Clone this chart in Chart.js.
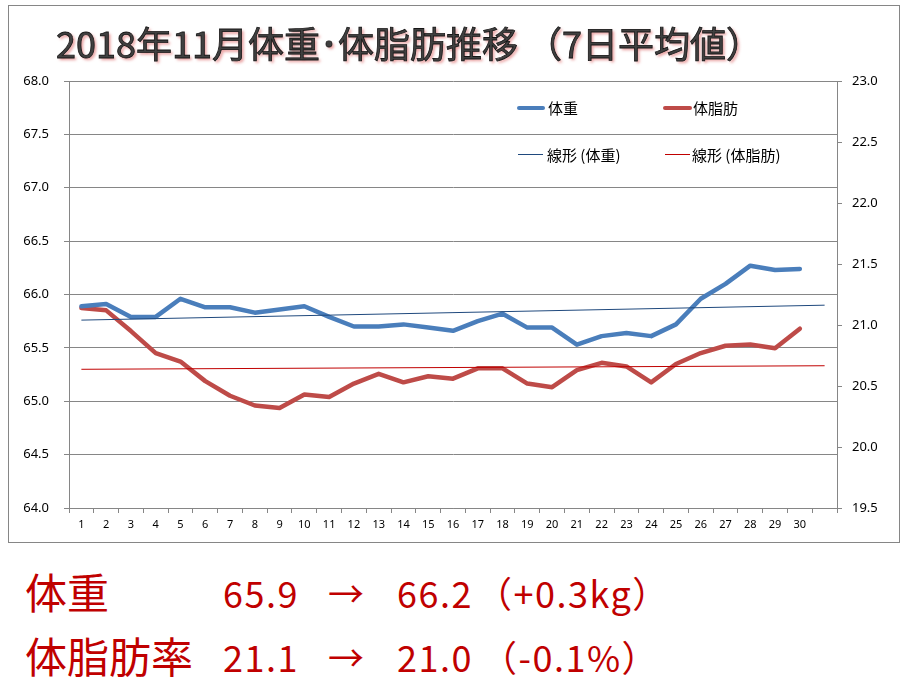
<!DOCTYPE html>
<html>
<head>
<meta charset="utf-8">
<script src="https://cdn.jsdelivr.net/npm/chart.js@4.4.1/dist/chart.umd.min.js"></script>
<style>
  body { margin: 0; background: #fff; width: 906px; height: 681px; position: relative; overflow: hidden; }
  #frame { position: absolute; left: 8px; top: 5px; width: 890px; height: 536px; border: 1px solid #868686; pointer-events: none; }
  #chart { position: absolute; left: 0; top: 0; }
  #title { position: absolute; left: 56px; top: 24px; font: 36px/36px "Noto Sans CJK JP"; color: #404040;
           -webkit-text-stroke: 0.8px #151515; text-shadow: 2px 2px 3px rgba(215, 80, 80, 0.6); white-space: nowrap; }
  .lg { position: absolute; font: 15px/15px "Noto Sans CJK JP"; color: #000; white-space: nowrap; }
  .sw { position: absolute; }
  .big { position: absolute; color: #C00000; font-family: "Noto Sans CJK JP"; white-space: nowrap; }
  .lab { font-size: 42px; line-height: 42px; }
  .num { font-size: 36px; line-height: 36px; letter-spacing: 1.5px; }
</style>
</head>
<body>
<canvas id="chart" width="906" height="545"></canvas>
<div id="frame"></div>
<div id="title">2018年11月体重･体脂肪推移 （7日平均値）</div>

<!-- 凡例 -->
<div class="sw" style="left:517px; top:106px; width:28px; height:4px; background:#4A7EBB; border-radius:2px;"></div>
<div class="lg" style="left:548px; top:100px;">体重</div>
<div class="sw" style="left:663px; top:106px; width:29px; height:4px; background:#BE4B48; border-radius:2px;"></div>
<div class="lg" style="left:693px; top:100px;">体脂肪</div>
<div class="sw" style="left:518px; top:154px; width:25px; height:1px; background:#1F497D;"></div>
<div class="lg" style="left:547px; top:147px;">線形 (体重)</div>
<div class="sw" style="left:665px; top:154px; width:25px; height:1px; background:#C00000;"></div>
<div class="lg" style="left:692px; top:147px;">線形 (体脂肪)</div>

<!-- 下の文字 -->
<div class="big lab" style="left:25px; top:570px;">体重</div>
<div class="big num" style="left:223px; top:574px;">65.9</div>
<div class="big num" style="left:328px; top:574px;">→</div>
<div class="big num" style="left:397px; top:574px;">66.2</div>
<div class="big num" style="left:476px; top:574px;">（+0.3kg）</div>
<div class="big lab" style="left:25px; top:634px;">体脂肪率</div>
<div class="big num" style="left:223px; top:638px;">21.1</div>
<div class="big num" style="left:328px; top:638px;">→</div>
<div class="big num" style="left:397px; top:638px;">21.0</div>
<div class="big num" style="left:481px; top:638px;">（-0.1%）</div>

<script>
var days = ['1','2','3','4','5','6','7','8','9','10','11','12','13','14','15',
            '16','17','18','19','20','21','22','23','24','25','26','27','28','29','30',''];

// 体重 (kg, 左軸)
var weight = [65.89, 65.91, 65.79, 65.79, 65.96, 65.88, 65.88, 65.83, 65.86, 65.89,
              65.79, 65.70, 65.70, 65.72, 65.69, 65.66, 65.75, 65.82, 65.69, 65.69,
              65.53, 65.61, 65.64, 65.61, 65.72, 65.96, 66.10, 66.27, 66.23, 66.24, null];

// 体脂肪 (%, 右軸)
var fat = [21.14, 21.12, 20.95, 20.77, 20.70, 20.54, 20.42, 20.34, 20.32, 20.43,
           20.41, 20.52, 20.60, 20.53, 20.58, 20.56, 20.645, 20.645, 20.52, 20.49,
           20.63, 20.69, 20.66, 20.53, 20.68, 20.77, 20.83, 20.84, 20.81, 20.97, null];

// 線形近似の始点(1日)と終点(31)
var weightTrend = [65.76, 65.90];
var fatTrend = [20.637, 20.666];

var leftTicks = [64.0, 64.5, 65.0, 65.5, 66.0, 66.5, 67.0, 67.5, 68.0];
var rightTicks = [19.5, 20.0, 20.5, 21.0, 21.5, 22.0, 22.5, 23.0];

function endpoints(pair) {
    var arr = days.map(function () { return null; });
    arr[0] = pair[0];
    arr[arr.length - 1] = pair[1];
    return arr;
}

var gridColor = '#868686';
var tickFont = { family: '"Noto Sans"', size: 13 };

var ctx = document.getElementById('chart').getContext('2d');
var chart = new Chart(ctx, {
    type: 'line',
    data: {
        labels: days,
        datasets: [
            { label: '線形 (体重)', data: endpoints(weightTrend), yAxisID: 'y', borderColor: '#1F497D',
              borderWidth: 1, pointRadius: 0, spanGaps: true, order: 0 },
            { label: '線形 (体脂肪)', data: endpoints(fatTrend), yAxisID: 'y1', borderColor: '#C00000',
              borderWidth: 1, pointRadius: 0, spanGaps: true, order: 0 },
            { label: '体重', data: weight, yAxisID: 'y', borderColor: '#4A7EBB', borderWidth: 4.5,
              pointRadius: 0, borderCapStyle: 'round', borderJoinStyle: 'round', order: 1 },
            { label: '体脂肪', data: fat, yAxisID: 'y1', borderColor: '#BE4B48', borderWidth: 4.5,
              pointRadius: 0, borderCapStyle: 'round', borderJoinStyle: 'round', order: 1 }
        ]
    },
    options: {
        responsive: false,
        animation: false,
        layout: { padding: { top: 81, left: 0, right: 0, bottom: 0 } },
        plugins: { legend: { display: false }, tooltip: { enabled: false } },
        scales: {
            x: {
                offset: true,
                grid: { offset: true, drawOnChartArea: false, tickLength: 5, color: gridColor },
                border: { color: gridColor },
                ticks: { font: { family: '"Noto Sans"', size: 11 }, color: '#000', padding: 5,
                         maxRotation: 0, autoSkip: false },
                afterFit: function (s) { s.height = 37; }
            },
            y: {
                position: 'left',
                min: 64, max: 68,
                grid: { color: gridColor, tickLength: 5 },
                border: { color: gridColor },
                ticks: { font: tickFont, color: '#000', padding: 15 },
                afterBuildTicks: function (s) { s.ticks = leftTicks.map(function (v) { return { value: v }; }); },
                afterFit: function (s) { s.width = 69; }
            },
            y1: {
                position: 'right',
                min: 19.5, max: 23,
                grid: { drawOnChartArea: false, color: gridColor, tickLength: 5 },
                border: { color: gridColor },
                ticks: { font: tickFont, color: '#000', padding: 10 },
                afterBuildTicks: function (s) { s.ticks = rightTicks.map(function (v) { return { value: v }; }); },
                afterFit: function (s) { s.width = 69; }
            }
        }
    }
});
// 目盛ラベルは小数1桁
chart.options.scales.y.ticks.callback = function (v) { return Number(v).toFixed(1); };
chart.options.scales.y1.ticks.callback = function (v) { return Number(v).toFixed(1); };
chart.update();
</script>
</body>
</html>
